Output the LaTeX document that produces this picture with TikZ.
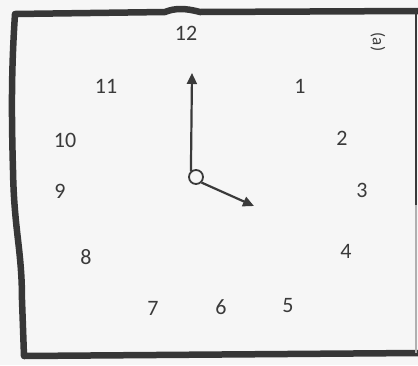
\documentclass[tikz,border=0pt]{standalone}
\usepackage{fontspec}
\setmainfont{Carlito}
\usetikzlibrary{arrows.meta}
\definecolor{ink}{HTML}{3A3A3A}
\definecolor{paper}{HTML}{F6F6F6}
\begin{document}
\begin{tikzpicture}[x=1pt,y=-1pt,
  num/.style={text=ink,font=\fontsize{22}{24}\selectfont,inner sep=0pt},
  frame/.style={draw=ink!95!black,line width=6.5pt,line join=round,line cap=round},
  hand/.style={draw=ink,line width=2.2pt,-{Triangle[length=11pt,width=10pt]}}]
\fill[paper] (0,0) rectangle (418,365);
\useasboundingbox (0,0) rectangle (418,365);
% frame
\draw[frame] (418,11) -- (200,12) .. controls (185,8) and (175,8) .. (165,12) -- (15,14)
  .. controls (12,60) and (11,100) .. (13,170) .. controls (14,230) and (22,250) .. (22,300) -- (24,356)
  -- (418,353);
\draw[ink,line width=2pt] (416,11) -- (416,205);
\draw[ink!40,line width=1.5pt] (416,205) -- (416,353);
% numbers
\node[num] (n12) at (186,33) {12};
\node[num] (n1) at (300,86) {1};
\node[num] (n2) at (342,138) {2};
\node[num] (n3) at (362,190) {3};
\node[num] (n4) at (346,251) {4};
\node[num] (n5) at (288,306) {5};
\node[num] (n6) at (221,307) {6};
\node[num] (n7) at (153,308) {7};
\node[num] (n8) at (86,257) {8};
\node[num] (n9) at (60,191) {9};
\node[num] (n10) at (65,140) {10};
\node[num] (n11) at (106,86) {11};
\node[text=ink,rotate=-90,inner sep=0pt,font=\fontsize{17}{19}\selectfont] (lab) at (378,42) {(a)};
% hands
\node[circle,draw=ink,line width=1.8pt,minimum size=14pt,inner sep=0pt,fill=paper] (c) at (196,177) {};
\coordinate (tipm) at (192,73);
\coordinate (tiph) at (254,206);
\draw[hand] (c.north west) ++(0.5,0) -- (tipm);
\draw[hand] (c.south east) -- (tiph);
\end{tikzpicture}
\end{document}
